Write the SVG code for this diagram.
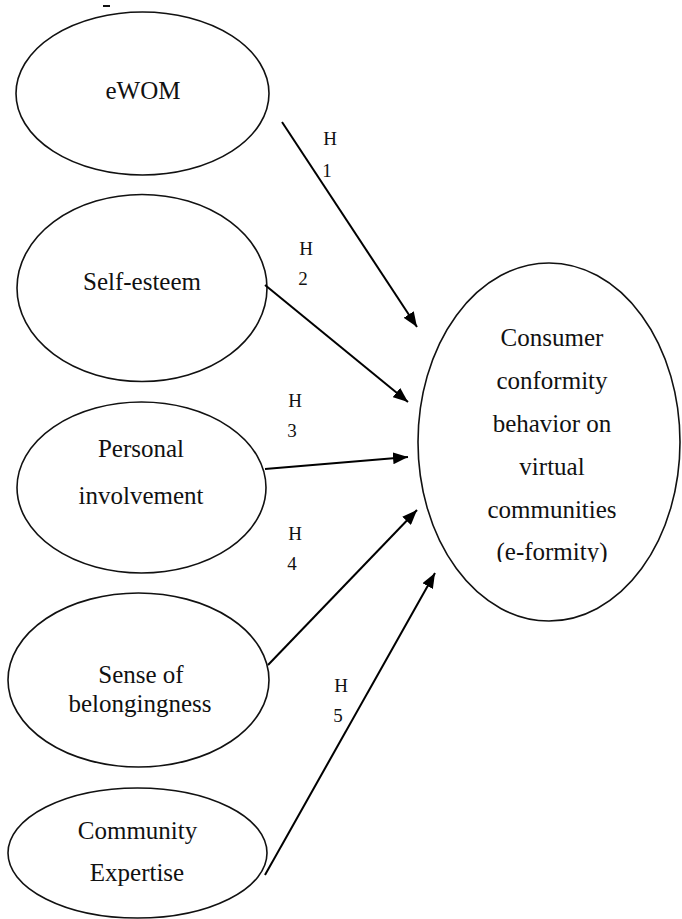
<svg xmlns="http://www.w3.org/2000/svg" width="682" height="919" viewBox="0 0 682 919">
<style>
.node ellipse{fill:#fff;stroke:#111;stroke-width:1.6}
text{font-family:'Liberation Serif','Times New Roman','DejaVu Serif',serif}
.lbl{font-size:25px;fill:#111;text-anchor:middle}
.h{font-size:19px;fill:#111;text-anchor:middle}
.conn line{stroke:#000;stroke-width:2;marker-end:url(#ah)}
</style>
<defs>
<marker id="ah" markerUnits="userSpaceOnUse" markerWidth="16" markerHeight="12" refX="15" refY="6" orient="auto">
<path d="M0,0 L15,6 L0,12 z" fill="#000"/>
</marker>
<clipPath id="cut"><rect x="0" y="0" width="682" height="562"/></clipPath>
</defs>
<rect width="682" height="919" fill="#fff"/>
<line x1="103" y1="6" x2="110" y2="6" stroke="#111" stroke-width="2"/>
<g id="ewom" class="node">
<ellipse cx="142.5" cy="93.5" rx="126.5" ry="81.5"/>
<text class="lbl" x="143" y="99" font-family="Liberation Serif, serif">eWOM</text>
</g>
<g id="selfesteem" class="node">
<ellipse cx="142" cy="288" rx="125" ry="93.5"/>
<text class="lbl" x="142" y="290" font-family="Liberation Serif, serif">Self-esteem</text>
</g>
<g id="personal" class="node">
<ellipse cx="141.5" cy="487.5" rx="124.5" ry="85.5"/>
<text class="lbl" x="141" y="457" font-family="Liberation Serif, serif">Personal</text>
<text class="lbl" x="141" y="504" font-family="Liberation Serif, serif">involvement</text>
</g>
<g id="belonging" class="node">
<ellipse cx="138.5" cy="680" rx="130.5" ry="87"/>
<text class="lbl" x="141" y="683" font-family="Liberation Serif, serif">Sense of</text>
<text class="lbl" x="140" y="712" font-family="Liberation Serif, serif">belongingness</text>
</g>
<g id="expertise" class="node">
<ellipse cx="137.5" cy="853" rx="129.5" ry="65"/>
<text class="lbl" x="137.5" y="839" font-family="Liberation Serif, serif">Community</text>
<text class="lbl" x="137" y="881" font-family="Liberation Serif, serif">Expertise</text>
</g>
<g id="conformity" class="node">
<ellipse cx="549" cy="442" rx="131" ry="179"/>
<text class="lbl" x="552" y="346" font-family="Liberation Serif, serif">Consumer</text>
<text class="lbl" x="552" y="389" font-family="Liberation Serif, serif">conformity</text>
<text class="lbl" x="552" y="432" font-family="Liberation Serif, serif">behavior on</text>
<text class="lbl" x="552" y="475" font-family="Liberation Serif, serif">virtual</text>
<text class="lbl" x="552" y="518" font-family="Liberation Serif, serif">communities</text>
<text class="lbl" x="552" y="560" clip-path="url(#cut)" font-family="Liberation Serif, serif">(e-formity)</text>
</g>
<g id="connectors" class="conn">
<line x1="282" y1="122" x2="417" y2="327"/>
<line x1="265" y1="285" x2="408" y2="402"/>
<line x1="265" y1="469" x2="408" y2="457"/>
<line x1="268" y1="665" x2="417" y2="510"/>
<line x1="265" y1="875" x2="435" y2="573"/>
</g>
<g id="hlabels" font-family="Liberation Serif, serif">
<text class="h" x="330" y="145">H</text>
<text class="h" x="327" y="177">1</text>
<text class="h" x="306" y="255">H</text>
<text class="h" x="303" y="285">2</text>
<text class="h" x="295" y="407">H</text>
<text class="h" x="292" y="437">3</text>
<text class="h" x="295" y="540">H</text>
<text class="h" x="292" y="570">4</text>
<text class="h" x="341" y="692">H</text>
<text class="h" x="338" y="722">5</text>
</g>
</svg>
